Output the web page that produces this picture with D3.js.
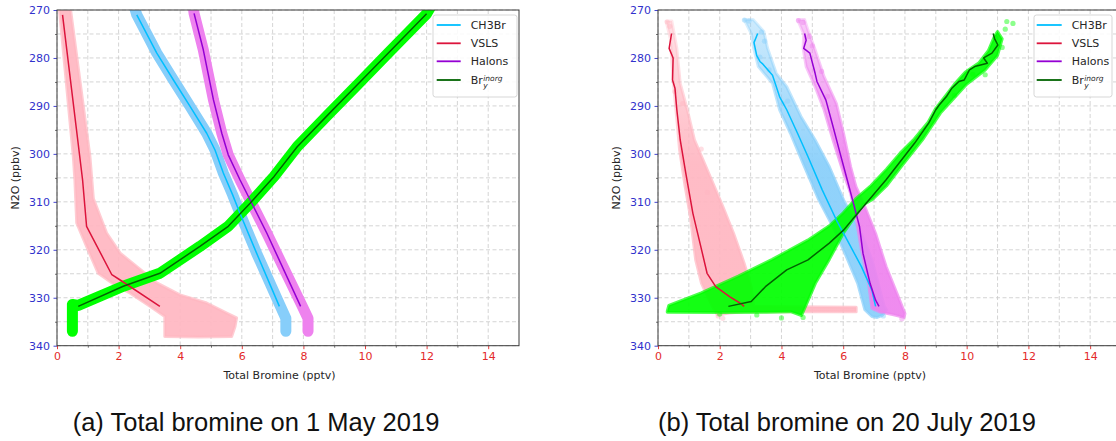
<!DOCTYPE html>
<html>
<head>
<meta charset="utf-8">
<script src="https://cdn.jsdelivr.net/npm/d3@7"></script>
<style>
  body { margin: 0; background: #fff; }
  svg { display: block; }
</style>
</head>
<body>
<svg id="fig" width="1116" height="441"></svg>
<script>
// ---------- axis ticks ----------
const xMajorTicks = [0, 2, 4, 6, 8, 10, 12, 14];
const xMinorTicks = [1, 3, 5, 7, 9, 11, 13];
const yMajorTicks = [270, 280, 290, 300, 310, 320, 330, 340];
const yMinorTicks = [275, 285, 295, 305, 315, 325, 335];
const seriesNames = ["CH3Br", "VSLS", "Halons", "Bry"];
const captions = ["(a) Total bromine on 1 May 2019", "(b) Total bromine on 20 July 2019"];

// ---------- (a) 1 May 2019 : [total bromine pptv, N2O ppbv] ----------
const ch3brMeanA = [[2.59,271],[3.24,279],[3.78,284.6],[4.32,290.1],[4.86,295.7],[5.13,299.2],[5.4,304],[5.7,308.5],[5.94,312.4],[6.48,320.7],[7.22,331.8]];
const vslsMeanA = [[0.18,271],[0.83,305.4],[0.96,315.1],[1.78,325.2],[2.05,326.3],[3.34,331.8]];
const halonsMeanA = [[4.45,270.7],[4.75,278.3],[5.08,288.75],[5.35,295.7],[5.56,300.2],[5.94,305.4],[6.81,316.5],[7.91,331.8]];
const bryMeanA = [[12.0,270.8],[10.75,279],[9.75,285.6],[8.85,291.5],[7.8,298.5],[7.05,304.7],[6.27,310.3],[5.56,315.1],[4.64,319.3],[3.34,324.9],[2.15,327.6],[0.69,331.8]];

// model sample clouds for (a): narrow tracks
const ch3brTrackA = [[2.45,268],[2.59,271],[3.24,279],[3.78,284.6],[4.32,290.1],[4.86,295.7],[5.13,299.2],[5.4,304],[5.7,308.5],[5.94,312.4],[6.48,320.7],[7.22,331.3],[7.43,334.3],[7.43,337]];
const halonsTrackA = [[4.4,268],[4.45,270.7],[4.75,278.3],[5.08,288.75],[5.35,295.7],[5.56,300.2],[5.94,305.4],[6.81,316.5],[7.95,331.6],[8.15,334.3],[8.15,337]];
const bryTrackA = [[12.25,268],[12.0,270.8],[10.75,279],[9.75,285.6],[8.85,291.5],[7.8,298.5],[7.05,304.7],[6.27,310.3],[5.56,315.1],[4.64,319.3],[3.34,324.9],[2.15,327.6],[0.69,331.6],[0.5,331.4],[0.5,337]];
const vslsCloudA = [[0.05,268],[0.53,300.6],[0.58,305.4],[0.64,314.4],[0.96,319.3],[1.34,324.9],[1.94,327.6],[2.37,329],[3.02,331.8],[3.5,333.9],[3.5,338.1],[4.6,338.2],[5.67,338.1],[5.78,336],[5.83,334.2],[5.51,333.2],[4.86,331.1],[3.99,329.4],[3.24,326.9],[2.59,323.5],[2.05,320.7],[1.61,316.5],[1.18,309.3],[1.07,300.6],[0.4,268]];

// ---------- (b) 20 July 2019 ----------
const ch3brMeanB = [[3.23,274.9],[3.11,276.8],[3.2,279.5],[3.31,280.8],[3.4,281.3],[3.71,283.6],[3.94,288.1],[4.17,290.8],[4.52,295.7],[4.86,300.6],[5.32,307.5],[5.78,313.8],[6.13,318],[6.59,323.5],[6.93,328.4],[7.05,331.8]];
const vslsMeanB = [[0.44,274.9],[0.36,278],[0.49,280],[0.47,284.6],[0.55,286.3],[0.61,290.8],[0.72,297.1],[0.9,304],[1.13,312.4],[1.36,318.6],[1.59,324.9],[1.87,327.7],[2.33,329.8],[2.68,331.2],[2.79,331.8]];
const halonsMeanB = [[4.75,274.9],[4.8,276.3],[4.72,278],[4.92,279],[5.09,283.2],[5.15,284.9],[5.44,288.8],[5.67,294.3],[5.9,299.9],[6.13,305.4],[6.36,311],[6.53,315.2],[6.64,320.7],[6.87,327],[7.05,330.5],[7.16,331.8]];
const bryMeanB = [[10.86,274.9],[10.9,275.9],[11.01,277.3],[10.82,279],[10.55,280],[10.67,281.1],[10.26,281.8],[10.09,282.5],[9.92,284.6],[9.75,284.9],[9.52,286.3],[9.34,288.1],[9.11,289.8],[9.0,290.8],[8.77,293.6],[8.31,297.8],[7.97,300.6],[7.39,305.4],[6.93,308.9],[6.47,312.4],[6.01,315.9],[5.55,318.6],[4.86,322.1],[4.17,324.2],[3.48,327.7],[3.02,330.8],[2.28,331.8]];

// model sample clouds for (b): outlines of the dense regions
const ch3brCloudB = [[2.79,272],[3.02,274.9],[3.1,278],[3.25,281.8],[3.71,285.3],[3.94,290.8],[4.29,295.7],[4.75,302.7],[5.21,309.6],[5.67,315.2],[6.01,320],[6.24,323.5],[6.47,327],[6.7,332.5],[6.93,333.9],[7.1,334.1],[7.28,333.6],[7.4,332.5],[7.33,331.8],[7.16,327.7],[6.93,322.1],[6.59,316.6],[6.01,309.6],[5.55,302.7],[5.09,297.1],[4.63,292.2],[4.17,286],[3.83,283.2],[3.55,278],[3.43,274.5],[3.08,272]];
const vslsCloudB = [[0.26,272.3],[0.4,276],[0.45,281],[0.5,285.3],[0.6,292],[0.7,299.2],[0.88,306.8],[1.05,313.1],[1.22,322.1],[1.41,327],[1.76,331.8],[1.93,333.6],[2.3,333.2],[2.8,332.9],[6.42,332.9],[6.42,332.0],[3.1,331.8],[3.02,327.7],[2.79,322.8],[2.45,316.6],[2.1,311],[1.64,304],[1.18,297.1],[0.95,290.8],[0.72,285.3],[0.61,278],[0.45,272.3]];
const halonsCloudB = [[4.52,272],[4.72,275],[4.7,278],[4.8,281.8],[5.09,286],[5.38,290.8],[5.67,297.1],[6.01,304],[6.24,308.2],[6.41,313.1],[6.59,320],[6.82,327],[6.93,332.2],[7.2,333],[7.6,333.5],[7.97,334.1],[8.0,333.3],[7.74,329.1],[7.39,323.5],[7.05,316.6],[6.7,311],[6.41,306.8],[6.24,302.7],[6.01,295.7],[5.78,289.5],[5.38,283.9],[5.09,278.3],[4.85,274],[4.75,272]];
const bryCloudB = [[0.3,332.8],[0.35,331.6],[1.4,329],[2.6,325.5],[3.7,322],[4.85,318],[5.55,315],[6.0,312.3],[6.4,309.4],[6.9,306.6],[7.4,303.2],[7.85,299.8],[8.3,296.9],[8.75,293.4],[9.0,290.5],[9.3,288],[9.6,285.5],[9.95,283],[10.4,281],[10.7,278.5],[10.9,275.5],[11.0,274.5],[11.15,276],[11.0,279.5],[10.6,282.5],[10.0,285.5],[9.5,289],[9.15,291.5],[8.6,296.8],[7.9,302.5],[7.4,306.7],[6.95,309.5],[6.65,310.6],[6.0,316.6],[5.55,322],[5.1,327],[4.8,331.5],[4.65,333.7],[4.3,332.9],[3.5,333],[2.0,333.1],[0.3,333]];

// sparse samples outside the dense clouds of (b)
const ch3brDotsB = [[2.8,272.1],[2.95,272.3],[3.35,274.6],[3.45,276.5],[3.3,279.8],[3.6,282.5],[4.05,289.5],[4.2,289],[7.3,333.8]];
const vslsDotsB = [[0.3,272.5],[0.38,273.4],[0.55,287],[0.8,289.5],[1.4,299],[1.95,333.8],[2.1,334.3],[1.6,308]];
const halonsDotsB = [[4.55,272.2],[4.7,272.6],[4.9,275.5],[5.0,277.5],[5.3,282.8],[5.5,288],[7.9,334.4]];
const bryDotsB = [[11.3,272.4],[11.5,272.8],[11.25,274],[10.95,275.8],[11.15,277.8],[10.6,283.5],[10.2,283.4],[9.6,287.8],[4.0,334.2],[3.2,333.6],[2.0,333.4],[4.7,334.1]];

// ---------- styling ----------
const cloudColor = {CH3Br: "#87cefa", VSLS: "#ffb6c1", Halons: "#ee82ee", Bry: "#00ff00"};
const lineColor = {CH3Br: "#00bfff", VSLS: "#dc143c", Halons: "#9400d3", Bry: "#006400"};
const tickRed = "#e32a2a";
const tickBlue = "#3131cc";
const font = "DejaVu Sans, sans-serif";

const svg = d3.select("#fig");
const defs = svg.append("defs");
const yTop = 10, yBottom = 345.7;

const panels = [
  {
    id: "a", x0: 57, x1: 519, ylabelX: 18.5, xlabelX: 279.5, captionX: 256,
    legend: {x: 433, y: 15, w: 84, h: 82, lineX0: 436.7, lineX1: 460.7, textX: 470.7},
    tracks: [["CH3Br", ch3brTrackA], ["Halons", halonsTrackA], ["Bry", bryTrackA]],
    clouds: [["VSLS", vslsCloudA]], dots: [], sparseTop: false,
    means: [["CH3Br", ch3brMeanA], ["VSLS", vslsMeanA], ["Halons", halonsMeanA], ["Bry", bryMeanA]]
  },
  {
    id: "b", x0: 658, x1: 1121, ylabelX: 619.5, xlabelX: 870, captionX: 847,
    legend: {x: 1034, y: 15, w: 78, h: 82, lineX0: 1036.7, lineX1: 1061.7, textX: 1071.7},
    tracks: [],
    clouds: [["VSLS", vslsCloudB], ["CH3Br", ch3brCloudB], ["Halons", halonsCloudB], ["Bry", bryCloudB]],
    dots: [["VSLS", vslsDotsB], ["CH3Br", ch3brDotsB], ["Halons", halonsDotsB], ["Bry", bryDotsB]],
    sparseTop: true,
    means: [["CH3Br", ch3brMeanB], ["VSLS", vslsMeanB], ["Halons", halonsMeanB], ["Bry", bryMeanB]]
  }
];

panels.forEach((p, pi) => {
  const x = d3.scaleLinear().domain([0, 15]).range([p.x0, p.x1]);
  const y = d3.scaleLinear().domain([270, 340]).range([yTop, yBottom]);
  const g = svg.append("g");

  // clip region of the plotting area
  const clipId = "clip-" + p.id;
  defs.append("clipPath").attr("id", clipId)
    .append("rect").attr("x", p.x0).attr("y", yTop)
    .attr("width", p.x1 - p.x0).attr("height", yBottom - yTop);

  // dashed grid on major and minor ticks
  const grid = g.append("g").attr("stroke", "#c9c9c9").attr("stroke-width", 0.8)
    .attr("stroke-dasharray", "4,2.5");
  xMajorTicks.concat(xMinorTicks).forEach(v => {
    grid.append("line").attr("x1", x(v)).attr("x2", x(v)).attr("y1", yTop).attr("y2", yBottom);
  });
  yMajorTicks.concat(yMinorTicks).forEach(v => {
    grid.append("line").attr("x1", p.x0).attr("x2", p.x1).attr("y1", y(v)).attr("y2", y(v));
  });

  const plot = g.append("g").attr("clip-path", `url(#${clipId})`);
  const line = d3.line().x(d => x(d[0])).y(d => y(d[1]));
  const area = d3.line().x(d => x(d[0])).y(d => y(d[1])).curve(d3.curveLinearClosed);

  // fill for a cloud: samples thin out towards low N2O in (b)
  function cloudFill(name) {
    if (!p.sparseTop || name === "Bry") return cloudColor[name];
    const id = `grad-${p.id}-${name}`;
    const gr = defs.append("linearGradient").attr("id", id)
      .attr("gradientUnits", "userSpaceOnUse")
      .attr("x1", 0).attr("x2", 0).attr("y1", y(272)).attr("y2", y(302));
    gr.append("stop").attr("offset", 0).attr("stop-color", cloudColor[name]).attr("stop-opacity", 0.45);
    gr.append("stop").attr("offset", 1).attr("stop-color", cloudColor[name]).attr("stop-opacity", 1);
    return `url(#${id})`;
  }

  // model sample clouds
  p.clouds.forEach(([name, pts]) => {
    const fill = cloudFill(name);
    plot.append("path").attr("d", area(pts))
      .attr("fill", fill).attr("fill-opacity", 0.92)
      .attr("stroke", fill).attr("stroke-width", 3)
      .attr("stroke-opacity", 0.7).attr("stroke-linejoin", "round");
  });
  p.tracks.forEach(([name, pts]) => {
    plot.append("path").attr("d", line(pts)).attr("fill", "none")
      .attr("stroke", cloudColor[name]).attr("stroke-width", 11)
      .attr("stroke-linecap", "round").attr("stroke-linejoin", "round");
  });
  p.dots.forEach(([name, pts]) => {
    plot.selectAll(null).data(pts).enter().append("circle")
      .attr("cx", d => x(d[0])).attr("cy", d => y(d[1])).attr("r", 2.6)
      .attr("fill", cloudColor[name]).attr("fill-opacity", 0.45);
  });

  // mean profiles
  p.means.forEach(([name, pts]) => {
    plot.append("path").attr("d", line(pts)).attr("fill", "none")
      .attr("stroke", lineColor[name]).attr("stroke-width", 1.5)
      .attr("stroke-linejoin", "round");
  });

  // x axis
  const xAxis = g.append("g").attr("transform", `translate(0,${yBottom})`);
  xAxis.call(d3.axisBottom(x).tickValues(xMajorTicks).tickSize(3.5).tickPadding(3.5).tickFormat(d3.format("d")));
  xAxis.selectAll(".tick line").attr("stroke", tickRed).attr("stroke-width", 0.9);
  xAxis.selectAll(".tick text").attr("fill", tickRed).attr("font-family", font).attr("font-size", 11);
  xAxis.select(".domain").remove();
  const xMinorAxis = g.append("g").attr("transform", `translate(0,${yBottom})`);
  xMinorAxis.call(d3.axisBottom(x).tickValues(xMinorTicks).tickSize(2).tickFormat(""));
  xMinorAxis.selectAll(".tick line").attr("stroke", "#333").attr("stroke-width", 0.7);
  xMinorAxis.select(".domain").remove();

  // y axis
  const yAxis = g.append("g").attr("transform", `translate(${p.x0},0)`);
  yAxis.call(d3.axisLeft(y).tickValues(yMajorTicks).tickSize(3.5).tickPadding(3.5).tickFormat(d3.format("d")));
  yAxis.selectAll(".tick line").attr("stroke", tickBlue).attr("stroke-width", 0.9);
  yAxis.selectAll(".tick text").attr("fill", tickBlue).attr("font-family", font).attr("font-size", 11);
  yAxis.select(".domain").remove();
  const yMinorAxis = g.append("g").attr("transform", `translate(${p.x0},0)`);
  yMinorAxis.call(d3.axisLeft(y).tickValues(yMinorTicks).tickSize(2).tickFormat(""));
  yMinorAxis.selectAll(".tick line").attr("stroke", "#333").attr("stroke-width", 0.7);
  yMinorAxis.select(".domain").remove();

  // frame
  g.append("rect").attr("x", p.x0).attr("y", yTop)
    .attr("width", p.x1 - p.x0).attr("height", yBottom - yTop)
    .attr("fill", "none").attr("stroke", "#3a3a3a").attr("stroke-width", 1);

  // axis titles
  g.append("text").attr("x", p.xlabelX).attr("y", 378.5).attr("text-anchor", "middle")
    .attr("font-family", font).attr("font-size", 11).attr("fill", "#262626")
    .text("Total Bromine (pptv)");
  g.append("text").attr("transform", `translate(${p.ylabelX},${(yTop + yBottom) / 2}) rotate(-90)`)
    .attr("text-anchor", "middle").attr("font-family", font).attr("font-size", 11)
    .attr("fill", "#262626").text("N2O (ppbv)");

  // legend
  const L = p.legend;
  const lg = g.append("g");
  lg.append("rect").attr("x", L.x).attr("y", L.y).attr("width", L.w).attr("height", L.h)
    .attr("rx", 2.5).attr("fill", "#fff").attr("fill-opacity", 0.85)
    .attr("stroke", "#d3d3d3").attr("stroke-width", 0.9);
  const rowY = [25, 43.3, 61.3, 80];
  seriesNames.forEach((name, i) => {
    lg.append("line").attr("x1", L.lineX0).attr("x2", L.lineX1)
      .attr("y1", rowY[i]).attr("y2", rowY[i])
      .attr("stroke", lineColor[name]).attr("stroke-width", 1.8);
    const t = lg.append("text").attr("x", L.textX).attr("y", rowY[i] + 4)
      .attr("font-family", font).attr("font-size", 11).attr("fill", "#262626");
    if (name === "Bry") {
      t.text("Br");
      const w = t.node().getComputedTextLength();
      lg.append("text").attr("x", L.textX + w + 0.5).attr("y", rowY[i] + 0.5)
        .attr("font-family", font).attr("font-style", "italic").attr("font-size", 7.5)
        .attr("fill", "#262626").text("inorg");
      lg.append("text").attr("x", L.textX + w + 0.5).attr("y", rowY[i] + 7.5)
        .attr("font-family", font).attr("font-style", "italic").attr("font-size", 7.5)
        .attr("fill", "#262626").text("y");
    } else {
      t.text(name);
    }
  });

  // caption
  svg.append("text").attr("x", p.captionX).attr("y", 430.5).attr("text-anchor", "middle")
    .attr("font-family", "Liberation Sans, Arial, sans-serif").attr("font-size", 25.5)
    .attr("fill", "#111").text(captions[pi]);
});
</script>
</body>
</html>
